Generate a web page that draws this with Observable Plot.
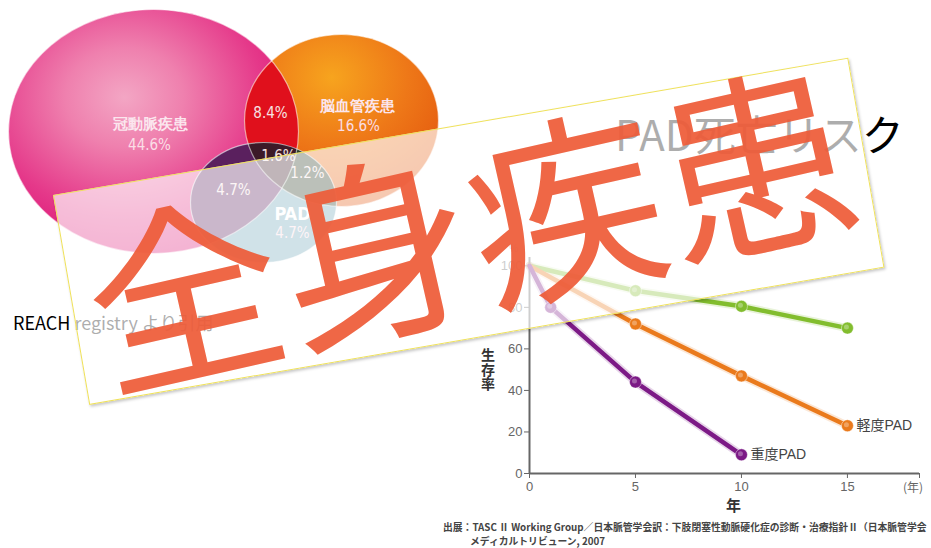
<!DOCTYPE html>
<html><head><meta charset="utf-8">
<script src="https://cdn.jsdelivr.net/npm/d3@7"></script>
<script src="https://cdn.jsdelivr.net/npm/@observablehq/plot@0.6"></script>
<style>
html,body{margin:0;padding:0;background:#fff;}
#stage{position:relative;width:931px;height:548px;overflow:hidden;font-family:"Noto Sans CJK JP","Noto Sans",sans-serif;}
#stage svg{position:absolute;}
</style></head>
<body><div id="stage"></div>
<script>
// ---------- data ----------
const seriesNames = ["非PAD", "軽度PAD", "重度PAD"];
const seriesColors = ["#82bd2e", "#ea7a1c", "#7c1a86"];
const normalYears = [0, 5, 10, 15];
const normalSurvival = [100, 88, 80.5, 70];
const mildYears = [0, 5, 10, 15];
const mildSurvival = [100, 72, 47, 23];
const severeYears = [0, 1, 5, 10];
const severeSurvival = [100, 80, 44, 9];
const xTicks = [0, 5, 10, 15, 18.4];
const xTickLabels = ["0", "5", "10", "15", ""];
const xUnitLabel = "(年)";
const yTicks = [0, 20, 40, 60, 80, 100];

const vennSets = ["冠動脈疾患", "脳血管疾患", "PAD"];
const vennShares = ["44.6%", "16.6%", "4.7%"];
const vennOverlaps = ["冠動脈疾患+脳血管疾患", "冠動脈疾患+PAD", "脳血管疾患+PAD", "3疾患"];
const vennOverlapShares = ["8.4%", "4.7%", "1.2%", "1.6%"];

const titleText = "PAD死亡リスク";
const sourceText = "REACH registry より引用";
const bannerText = "全身疾患";
const yAxisTitle = "生存率";
const xAxisTitle = "年";
const captionLines = ["出展：TASC Ⅱ Working Group／日本脈管学会訳：下肢閉塞性動脈硬化症の診断・治療指針Ⅱ（日本脈管学会", "メディカルトリビューン, 2007"];

// ---------- layout (illustration geometry) ----------
const vennLayout = [
  {cx: 153, cy: 131, rx: 145, ry: 122},
  {cx: 341, cy: 120, rx: 97, ry: 86},
  {cx: 263, cy: 202, rx: 73, ry: 60}
];
const vennSetPos = [[150, 124], [357, 106], [292, 214]];
const vennSharePos = [[149, 145], [358, 126], [292, 233]];
const vennOverlapPos = [[270, 113], [233, 190], [307, 173], [278, 156]];

const stage = document.getElementById("stage");
const SVGNS = "http://www.w3.org/2000/svg";
function addText(text, css) {
  const d = document.createElement("div");
  d.textContent = text;
  Object.assign(d.style, {position: "absolute", whiteSpace: "nowrap"}, css);
  stage.appendChild(d);
  return d;
}

// ---------- Venn illustration ----------
function ellipseSymbol(k) {
  return {draw(ctx, size) {
    const r = Math.sqrt(size / Math.PI), rx = r * k, ry = r, c = 0.5523;
    ctx.moveTo(rx, 0);
    ctx.bezierCurveTo(rx, ry * c, rx * c, ry, 0, ry);
    ctx.bezierCurveTo(-rx * c, ry, -rx, ry * c, -rx, 0);
    ctx.bezierCurveTo(-rx, -ry * c, -rx * c, -ry, 0, -ry);
    ctx.bezierCurveTo(rx * c, -ry, rx, -ry * c, rx, 0);
    ctx.closePath();
  }};
}
function ellipseMark(i, fill, label, extra = {}) {
  const e = vennLayout[i];
  return Plot.dot([e], {x: "cx", y: "cy", r: e.ry, symbol: ellipseSymbol(e.rx / e.ry), fill, ariaLabel: label, ...extra});
}
const narrow = "Liberation Sans Narrow, DejaVu Sans Condensed, Roboto, sans-serif";
const setRows = vennSets.map((t, i) => ({t, x: vennSetPos[i][0], y: vennSetPos[i][1]}));
const shareRows = vennShares.map((t, i) => ({t, x: vennSharePos[i][0], y: vennSharePos[i][1]}));
const overlapRows = vennOverlapShares.map((t, i) => ({name: vennOverlaps[i], t, x: vennOverlapPos[i][0], y: vennOverlapPos[i][1]}));

const venn = Plot.plot({
  width: 450, height: 280, margin: 0,
  x: {type: "identity", axis: null}, y: {type: "identity", axis: null},
  style: {background: "transparent", overflow: "visible"},
  marks: [
    ellipseMark(0, "url(#gPink)", "v-pink"),
    ellipseMark(1, "url(#gOrange)", "v-orange"),
    ellipseMark(2, "#6ea4b6", "v-blue"),
    ellipseMark(1, "#e0101c", "v-po"),
    ellipseMark(2, "#5a205e", "v-pb"),
    ellipseMark(2, "#2e3c26", "v-ob"),
    ellipseMark(2, "#3c1a28", "v-all"),
    ellipseMark(0, "none", "o0", {stroke: "white", strokeWidth: 1.2, strokeOpacity: 0.55}),
    ellipseMark(1, "none", "o1", {stroke: "white", strokeWidth: 1.2, strokeOpacity: 0.55}),
    ellipseMark(2, "none", "o2", {stroke: "white", strokeWidth: 1.2, strokeOpacity: 0.55}),
    Plot.text(setRows.slice(0, 2), {x: "x", y: "y", text: "t", fill: "#fbe6ee", fontSize: 15, fontWeight: "bold"}),
    Plot.text(setRows.slice(2), {x: "x", y: "y", text: "t", fill: "#ffffff", fontSize: 18, fontWeight: "bold", fontFamily: narrow}),
    Plot.text(shareRows, {x: "x", y: "y", text: "t", fill: "#fbdde6", fontSize: 15, fontFamily: narrow}),
    Plot.text(overlapRows, {x: "x", y: "y", text: "t", fill: "#f6e2e2", fontSize: 15, fontFamily: narrow})
  ]
});
venn.style.left = "0px"; venn.style.top = "0px";
stage.appendChild(venn);

// defs inside the venn svg: gradients and clip shapes
const defs = d3.select(venn).insert("defs", ":first-child");
function radial(id, cx, cy, r, stops) {
  const g = defs.append("radialGradient").attr("id", id).attr("cx", cx).attr("cy", cy).attr("r", r);
  stops.forEach(([o, c]) => g.append("stop").attr("offset", o).attr("stop-color", c));
}
radial("gPink", 0.4, 0.36, 0.68, [[0, "#f3a6c4"], [0.3, "#ef80ae"], [0.7, "#e5398a"], [1, "#dc1074"]]);
radial("gOrange", 0.45, 0.25, 0.78, [[0, "#f7a41e"], [0.5, "#ee7818"], [1, "#e2520c"]]);
function clip(id, i) {
  const e = vennLayout[i];
  defs.append("clipPath").attr("id", id).append("ellipse")
    .attr("cx", e.cx).attr("cy", e.cy).attr("rx", e.rx).attr("ry", e.ry);
}
clip("vcPink", 0);
clip("vcOrange", 1);
const groups = Array.from(venn.children).filter(n => n.tagName.toLowerCase() === "g");
const markG = (label, idx) => venn.querySelector(`g[aria-label="${label}"]`) || groups[idx];
markG("v-po", 3).setAttribute("clip-path", "url(#vcPink)");
markG("v-pb", 4).setAttribute("clip-path", "url(#vcPink)");
markG("v-ob", 5).setAttribute("clip-path", "url(#vcOrange)");
const gAll = markG("v-all", 6);
const wrap = document.createElementNS(SVGNS, "g");
wrap.setAttribute("clip-path", "url(#vcPink)");
gAll.parentNode.insertBefore(wrap, gAll);
wrap.appendChild(gAll);
gAll.setAttribute("clip-path", "url(#vcOrange)");

// ---------- titles ----------
addText(titleText, {left: "615px", top: "112px", fontSize: "42px", lineHeight: "42px", color: "#000"});
addText(sourceText, {left: "13px", top: "313px", fontSize: "18px", lineHeight: "18px", color: "#000"});

// ---------- survival chart ----------
const rows = [
  ...normalYears.map((year, i) => ({series: seriesNames[0], year, survival: normalSurvival[i]})),
  ...mildYears.map((year, i) => ({series: seriesNames[1], year, survival: mildSurvival[i]})),
  ...severeYears.map((year, i) => ({series: seriesNames[2], year, survival: severeSurvival[i]}))
];
const markerRows = rows.filter(d => d.year > 0);
const endRows = [seriesNames[1], seriesNames[2]].map(s => rows.filter(d => d.series === s).at(-1));

const chart = Plot.plot({
  width: 461, height: 308,
  marginLeft: 59, marginRight: 12, marginTop: 17, marginBottom: 75,
  style: {background: "transparent", fontFamily: "Liberation Sans, Arial, sans-serif", fontSize: "13px", color: "#666", overflow: "visible"},
  x: {domain: [0, 18.4], ticks: xTicks, tickFormat: d => xTickLabels[xTicks.indexOf(d)], tickSize: 5, tickPadding: 3, label: null},
  y: {domain: [0, 104], ticks: yTicks, tickSize: 5, tickPadding: 2, label: null},
  color: {domain: seriesNames, range: seriesColors},
  marks: [
    Plot.ruleX([0], {y1: 0, y2: 104, stroke: "#666", strokeWidth: 2}),
    Plot.ruleY([0], {x1: 0, x2: 18.4, stroke: "#666", strokeWidth: 2}),
    Plot.line(rows, {x: "year", y: "survival", z: "series", stroke: "series", strokeWidth: 8, strokeOpacity: 0.18}),
    Plot.line(rows, {x: "year", y: "survival", z: "series", stroke: "series", strokeWidth: 4.5}),
    Plot.dot(markerRows, {x: "year", y: "survival", fill: "series", r: 6, stroke: "#ffffff", strokeOpacity: 0.45, strokeWidth: 1}),
    Plot.dot(markerRows, {x: "year", y: "survival", fill: "#ffffff", fillOpacity: 0.3, r: 2.5, dx: -1, dy: -1}),
    Plot.text(endRows, {x: "year", y: "survival", text: "series", dx: 9, textAnchor: "start", fill: "#444", fontSize: 14, fontFamily: "Liberation Sans, Noto Sans CJK JP, sans-serif"})
  ]
});
chart.style.left = "470px"; chart.style.top = "240px";
stage.appendChild(chart);

addText("%", {left: "509px", top: "242px", fontSize: "10px", lineHeight: "12px", color: "#999"});
addText(xUnitLabel, {left: "903px", top: "480px", fontSize: "12px", lineHeight: "13px", color: "#666"});
addText(yAxisTitle, {left: "481px", top: "348px", fontSize: "14px", lineHeight: "14px", fontWeight: "bold", color: "#333", writingMode: "vertical-rl", letterSpacing: "0.5px"});
addText(xAxisTitle, {left: "726px", top: "497px", fontSize: "15px", lineHeight: "15px", fontWeight: "bold", color: "#333"});
addText(captionLines[0], {left: "443px", top: "522px", fontSize: "9.8px", lineHeight: "11px", color: "#444", fontWeight: "bold"});
addText(captionLines[1], {left: "470px", top: "536px", fontSize: "9.8px", lineHeight: "11px", color: "#444", fontWeight: "bold"});

// ---------- overlay banner ----------
addText("", {left: "53px", top: "195px", width: "807px", height: "213px", boxSizing: "border-box",
  background: "rgba(255,255,255,0.68)", border: "1px solid #efe15a", transformOrigin: "0 0",
  transform: "rotate(-9.8deg)", boxShadow: "1px 2px 3px rgba(0,0,0,0.22)"});
addText(bannerText, {left: "70px", top: "127px", width: "800px", textAlign: "center",
  fontFamily: "'Liberation Sans', 'Noto Sans CJK JP', sans-serif",
  fontSize: "195px", lineHeight: "218px",
  color: "#ee5c39", opacity: "0.93", transformOrigin: "50% 102px", transform: "rotate(-12.8deg)"});
</script>
</body></html>
